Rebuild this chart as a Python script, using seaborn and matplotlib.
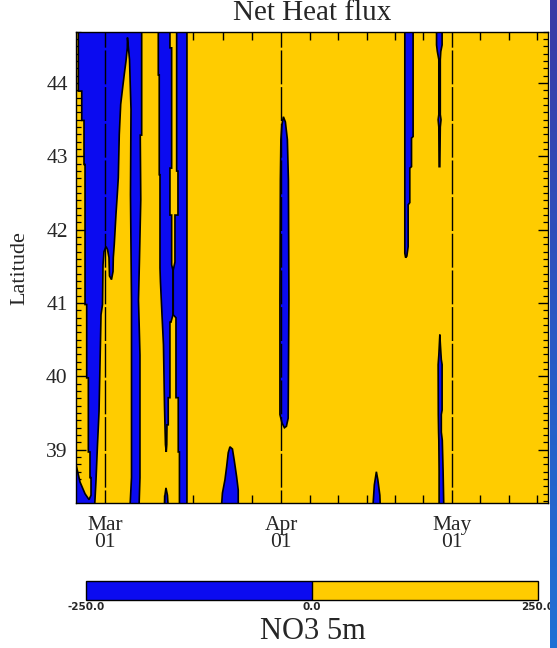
import numpy as np
import matplotlib
matplotlib.use("Agg")
import matplotlib.pyplot as plt
import seaborn as sns
from matplotlib.colors import ListedColormap, BoundaryNorm, LinearSegmentedColormap
from matplotlib.cm import ScalarMappable

# ---------------- data (days since Mar 01, latitude) ----------------
title = "Net Heat flux"
ylabel = "Latitude"
cbar_label = "NO3 5m"
month_days = [0, 31, 61]
month_labels = ["Mar\n01", "Apr\n01", "May\n01"]
minor_days = [5.2, 10.3, 15.5, 20.7, 25.8, 36, 41, 46, 51, 56, 66, 71, 76]
lat_ticks = [39, 40, 41, 42, 43, 44]
cbar_levels = [-250.0, 0.0, 250.0]
cbar_ticklabels = ["-250.0", "0.0", "250.0"]
x_range = (-5.1, 77.9)
lat_range = (38.27, 44.70)

# negative (blue) regions of net heat flux, outlines
a_day = [-4.69, 6.45, 6.45, 6.20, 6.29, 6.06, 5.89, 6.15, 6.15, 5.98,
         4.39, 4.66, 4.66, 4.48, 4.57, 4.31, 3.95,
         3.92, 3.69, 3.39, 3.11, 2.76, 2.51, 2.34, 2.16, 1.93, 1.63, 1.46,
         1.41, 1.14, 0.79, 0.70, 0.44, 0.18, -0.18, -0.35,
         -0.44, -0.70, -0.88, -1.05, -1.32, -1.58, -1.76, -1.85,
         -6.0, -6.0, -5.10, -4.39, -3.51, -2.81,
         -2.46, -2.46, -2.64, -2.64, -2.93, -2.93, -3.22, -3.22, -3.51, -3.51,
         -3.69, -3.69, -4.09, -4.09, -4.69]
a_lat = [44.76, 44.76, 43.29, 43.29, 42.41, 41.59, 41.04, 40.29, 38.62, 38.21,
         38.21, 38.62, 41.04, 42.48, 43.64, 44.32, 44.62,
         44.48, 44.30, 44.12, 43.94, 43.71, 43.30, 42.71, 42.48, 42.21, 41.80, 41.62,
         41.43, 41.32, 41.37, 41.62, 41.73, 41.77, 41.70, 41.52,
         40.98, 40.84, 40.16, 39.52, 39.07, 38.59, 38.32, 38.21,
         38.21, 38.83, 38.80, 38.56, 38.40, 38.32,
         38.38, 38.62, 38.62, 38.97, 38.97, 39.98, 39.98, 40.98, 40.98, 42.89,
         42.89, 43.49, 43.49, 43.89, 43.89]

c_day = [9.37, 11.42, 11.42, 11.72, 11.72, 11.42, 11.42, 11.72, 11.72, 11.95,
         11.95, 11.60, 11.42, 11.42, 11.12, 11.12, 10.90, 10.86, 10.77, 10.63,
         10.54, 10.46, 10.28, 10.02, 9.75, 9.67, 9.67, 9.54, 9.54, 9.37]
c_lat = [44.76, 44.76, 44.48, 44.48, 42.84, 42.84, 42.20, 42.20, 41.52, 41.45,
         40.84, 40.74, 40.74, 39.71, 39.71, 39.34, 39.34, 39.07, 38.97, 39.07,
         39.34, 39.61, 40.43, 40.84, 41.29, 41.48, 42.75, 42.75, 44.11, 44.11]

c2_day = [10.46, 10.54, 10.72, 10.98, 11.12]
c2_lat = [38.21, 38.38, 38.48, 38.38, 38.21]

d_day = [12.60, 14.41, 14.41, 13.09, 13.09, 12.88, 12.88, 12.48, 12.48, 12.00,
         12.00, 12.30, 12.30, 12.83, 12.83, 12.60]
d_lat = [44.76, 44.76, 38.21, 38.21, 38.97, 38.97, 39.71, 39.71, 40.80, 40.84,
         41.45, 41.56, 42.20, 42.20, 42.80, 42.80]

e_day = [20.47, 20.65, 21.09, 21.39, 21.67, 21.97, 22.41, 22.72, 23.15, 23.43, 23.43]
e_lat = [38.21, 38.41, 38.59, 38.77, 38.96, 39.04, 39.01, 38.86, 38.63, 38.45, 38.21]

f_day = [31.11, 31.37, 31.72, 32.07, 32.25, 32.34, 32.25, 32.21, 31.90, 31.55,
         31.11, 30.76, 30.76, 30.84, 30.93]
f_lat = [43.43, 43.54, 43.47, 43.23, 42.68, 41.04, 39.96, 39.43, 39.32, 39.30,
         39.37, 39.48, 41.04, 42.68, 43.23]

g_day = [47.10, 47.36, 47.72, 47.98, 48.33, 48.42]
g_lat = [38.21, 38.52, 38.70, 38.59, 38.38, 38.21]

h_day = [52.72, 54.18, 54.18, 53.90, 53.90, 53.60, 53.60, 53.31, 53.31, 53.08, 52.86, 52.72]
h_lat = [44.76, 44.76, 43.27, 43.25, 42.86, 42.84, 42.37, 42.34, 41.77, 41.64, 41.62, 41.68]

i_day = [58.30, 59.28, 59.28, 59.05, 58.96, 58.96, 59.09, 58.96, 58.88, 58.75,
         58.70, 58.58, 58.70, 58.70, 58.44, 58.30]
i_lat = [44.76, 44.76, 44.52, 44.43, 44.32, 43.57, 43.50, 43.40, 42.86, 42.86,
         43.40, 43.50, 43.57, 44.32, 44.43, 44.52]

j_day = [58.88, 58.98, 59.14, 59.28, 59.28, 59.14, 59.14, 59.31, 59.45, 59.58,
         58.75, 58.75, 58.70, 58.66, 58.61, 58.58, 58.70, 58.79]
j_lat = [40.57, 40.43, 40.23, 40.16, 39.54, 39.48, 39.24, 39.13, 38.72, 38.21,
         38.21, 38.72, 39.13, 39.24, 39.48, 40.16, 40.29, 40.43]

regions = [(a_day, a_lat), (c_day, c_lat), (c2_day, c2_lat), (d_day, d_lat),
           (e_day, e_lat), (f_day, f_lat), (g_day, g_lat), (h_day, h_lat),
           (i_day, i_lat), (j_day, j_lat)]

# ---------------- style ----------------
BLUE = "#0b0bf0"
YELLOW = "#ffcc00"
sns.set_style("ticks")
plt.rcParams["font.family"] = ["Liberation Serif", "DejaVu Serif"]

W, H = 557, 648
fig = plt.figure(figsize=(W / 100, H / 100), dpi=100)
fig.patch.set_facecolor("white")

ax = fig.add_axes([76 / W, 1 - 503.3 / H, 472 / W, 471.6 / H])
ax.set_facecolor(YELLOW)
for dd, ll in regions:
    ax.fill(dd, ll, facecolor=BLUE, edgecolor="black", linewidth=1.2, zorder=2)

for md in month_days:
    ax.axvline(md, color="black", linewidth=1.0, linestyle=(15, (24.4, 2.0)), zorder=3)

ax.set_xlim(*x_range)
ax.set_ylim(*lat_range)

ax.set_xticks(month_days)
ax.set_xticklabels(month_labels, linespacing=0.85)
ax.set_xticks(minor_days, minor=True)
ax.set_yticks(lat_ticks)
ax.set_yticklabels([str(v) for v in lat_ticks])
ax.set_yticks(np.round(np.arange(38.3, 44.71, 0.1), 1), minor=True)

ax.tick_params(axis="x", which="major", length=0, pad=9, labelsize=15.5,
               top=True, bottom=True, direction="in")
ax.tick_params(axis="x", which="minor", length=5.5, width=1.0, color="black",
               top=True, bottom=True, direction="in")
ax.tick_params(axis="y", which="major", length=7, width=1.0, color="black",
               left=True, right=True, direction="in", labelsize=15.5, pad=6)
ax.tick_params(axis="y", which="minor", length=3.8, width=0.9, color="black",
               left=True, right=True, direction="in")
for sp in ax.spines.values():
    sp.set_color("black")
    sp.set_linewidth(1.0)
    sp.set_zorder(4)

fig.text(20 / W, 1 - 268 / H, ylabel, rotation=90, ha="center", va="center", fontsize=16)
fig.text(312 / W, 1 - 20 / H, title, ha="center", va="baseline", fontsize=21)

# ---------------- colour bar ----------------
cax = fig.add_axes([86.3 / W, 1 - 600 / H, (538 - 86.3) / W, 19.4 / H])
cmap = ListedColormap([BLUE, YELLOW])
norm = BoundaryNorm(cbar_levels, cmap.N)
cb = fig.colorbar(ScalarMappable(norm=norm, cmap=cmap), cax=cax,
                  orientation="horizontal", drawedges=True, ticks=cbar_levels)
cb.outline.set_edgecolor("black")
cb.outline.set_linewidth(1.0)
cb.dividers.set_color("black")
cb.dividers.set_linewidth(1.0)
cb.set_ticklabels(cbar_ticklabels)
cax.tick_params(length=0, pad=1.5)
for t in cax.get_xticklabels():
    t.set_fontfamily("DejaVu Sans")
    t.set_fontsize(7.5)
    t.set_fontweight("bold")
fig.text(312.6 / W, 1 - 639 / H, cbar_label, ha="center", va="baseline", fontsize=22)

# ---------------- slide-edge strip at the right ----------------
sax = fig.add_axes([550 / W, 0, 7 / W, 1])
edge_cmap = LinearSegmentedColormap.from_list("edge", ["#3a3aa6", "#2a58c4", "#1f70d4"])
sax.imshow(np.linspace(0, 1, 64).reshape(-1, 1), aspect="auto", cmap=edge_cmap,
           extent=(0, 1, 0, 1), origin="upper")
sax.set_axis_off()

fig.savefig("out.png", dpi=100)
